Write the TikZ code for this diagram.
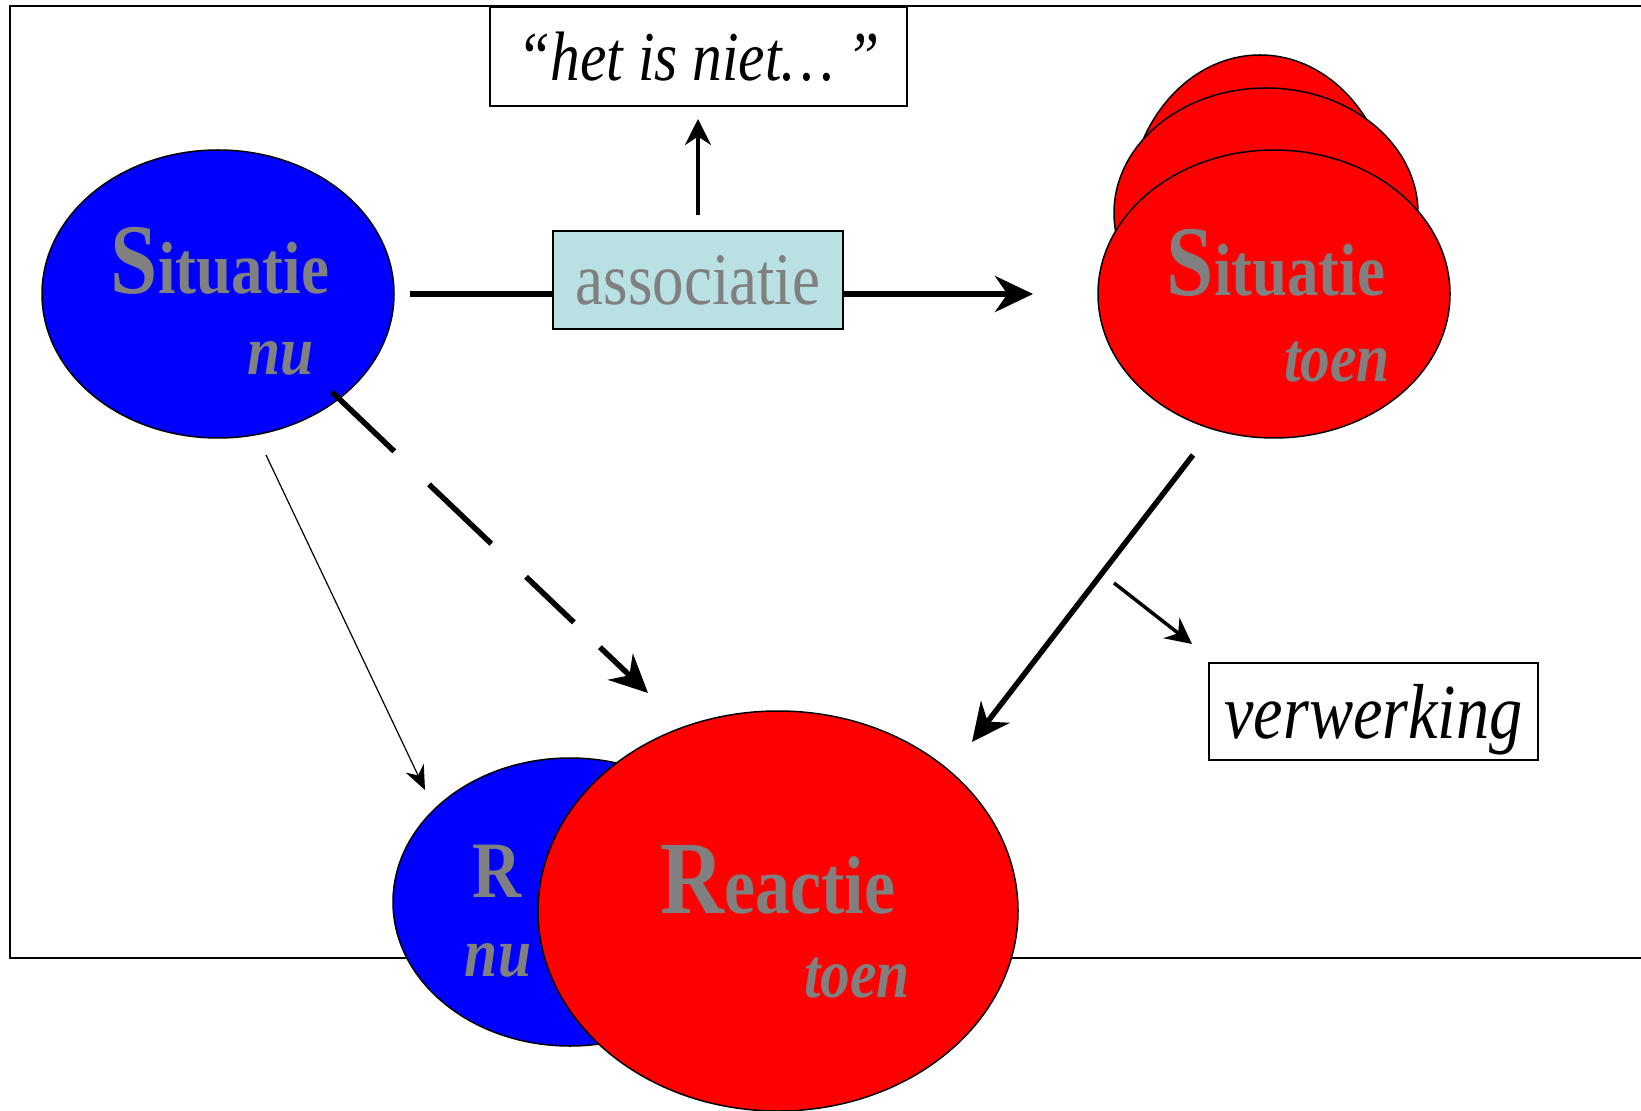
\documentclass[tikz,border=0pt]{standalone}
\usepackage{fontspec}
\setmainfont{Liberation Serif}[FakeStretch=0.85]
\usetikzlibrary{arrows.meta,shapes.geometric}
\definecolor{assocblue}{RGB}{185,224,227}
\newcommand{\fsz}[1]{\fontsize{#1}{#1}\selectfont}
\tikzset {
  >=Stealth,
  every node/.style={inner sep=0pt, outer sep=0pt},
  blob/.style={ellipse, draw, line width=0.75pt},
  blueblob/.style={blob, fill=blue},
  redblob/.style={blob, fill=red},
  labelbox/.style={draw, rectangle, line width=0.75pt, text depth=0pt},
  graylabel/.style={anchor=base, text=gray, font=\bfseries},
  graynote/.style={anchor=base, text=gray, font=\bfseries\itshape\fsz{35}},
  bigarrow/.style={line width=2.75pt, -{Stealth[length=19pt,width=18pt]}},
  midarrow/.style={line width=1.75pt, -{Stealth[length=13pt,width=13pt]}},
  thinarrow/.style={line width=0.6pt, -{Stealth[length=12pt,width=10pt]}},
}

\begin{document}
\begin{tikzpicture}[x=0.5pt,y=-0.5pt]
  \useasboundingbox (0,0) rectangle (1641,1111);
  \draw[line width=1pt] (1641,6) -- (10,6) -- (10,958) -- (1641,958);

  \coordinate (dashA) at (332,392);
  \coordinate (dashB) at (648,693);
  \coordinate (thinA) at (266,455);
  \coordinate (thinB) at (425,790);
  \coordinate (toenA) at (1193,455);
  \coordinate (toenB) at (972,742);
  \coordinate (verwA) at (1114,583);
  \coordinate (verwB) at (1192,644);

  % situaties
  \node[blueblob, minimum width=176pt, minimum height=144pt] (sitnu) at (218,294) {};
  \node[redblob, minimum width=132pt, minimum height=158pt] (sittoenC) at (1260,213) {};
  \node[redblob, minimum width=152pt, minimum height=125pt] (sittoenB) at (1266,213) {};
  \node[redblob, minimum width=176pt, minimum height=144pt] (sittoen) at (1274,294) {};
  \node[graylabel] (sitnuT) at (220,294) {{\fsz{50}S}{\fsz{37}ituatie}};
  \node[graynote] (sitnuN) at (281,375) {nu};
  \node[graylabel] (sittoenT) at (1276,296) {{\fsz{50}S}{\fsz{37}ituatie}};
  \node[graynote] (sittoenN) at (1337,382) {toen};

  % reacties
  \node[blueblob, minimum width=177pt, minimum height=144pt] (reactienu) at (570,902) {};
  \node[redblob, minimum width=240pt, minimum height=200pt] (reactie) at (778,911) {};
  \node[graylabel] (reactienuT) at (497,897) {\fsz{40}R};
  \node[graynote] (reactienuN) at (498,976) {nu};
  \node[graylabel] (reactieT) at (778,913) {{\fsz{52}R}{\fsz{41}eactie}};
  \node[graynote] (reactieN) at (857,997) {toen};

  \draw[bigarrow, shorten <=8pt, shorten >=32.5pt] (sitnu.east) -- (sittoen.west);
  \node[labelbox, fill=assocblue, minimum width=145pt, minimum height=49pt,
        text=gray, font=\fsz{37}] (assoc) at (698,280) {associatie};
  \node[labelbox, minimum width=208.5pt, minimum height=49.5pt,
        font=\itshape\fsz{35}] (niet) at (698.5,56.5) {“het is niet…\,”};
  \draw[midarrow, shorten <=8pt, shorten >=6.5pt] (assoc.north) -- (assoc.north |- niet.south);

  \draw[bigarrow, dash pattern=on 43pt off 24pt on 43pt off 24pt on 33pt off 18pt on 80pt]
    (dashA) -- (dashB);
  \draw[thinarrow] (thinA) -- (thinB);
  \draw[bigarrow] (toenA) -- (toenB);
  \draw[midarrow] (verwA) -- (verwB);
  \node[labelbox, minimum width=164.5pt, minimum height=48.5pt,
        font=\itshape\fsz{39}] (verw) at (1373.5,711.5) {verwerking};
\end{tikzpicture}
\end{document}
